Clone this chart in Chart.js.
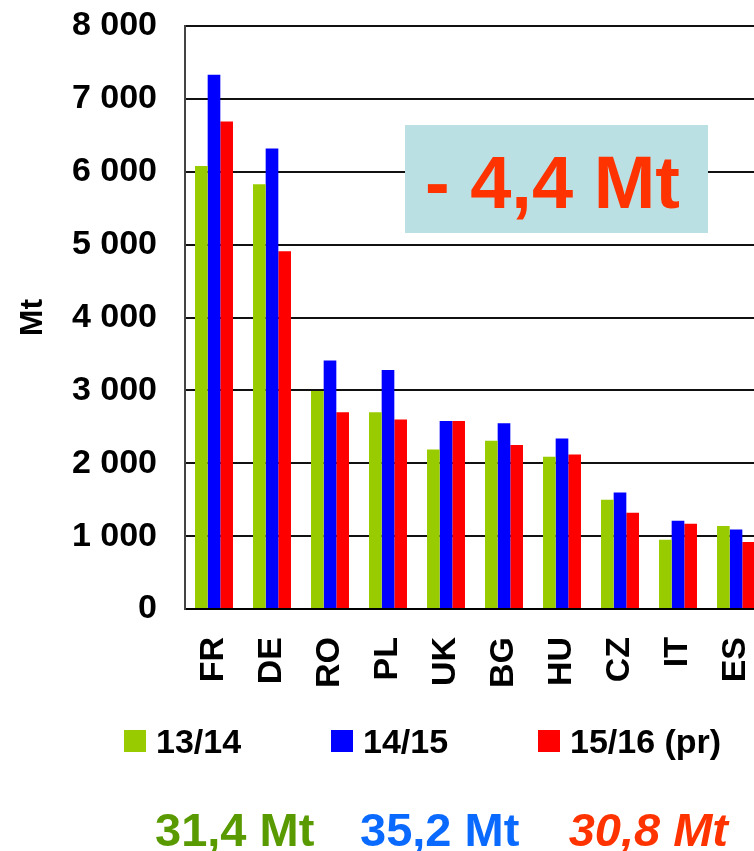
<!DOCTYPE html>
<html>
<head>
<meta charset="utf-8">
<script src="https://cdn.jsdelivr.net/npm/chart.js@4/dist/chart.umd.min.js"></script>
<style>
  html, body { margin: 0; padding: 0; overflow: hidden; background: #fff; }
  #wrap { width: 800px; height: 851px; }
</style>
</head>
<body>
<div id="wrap"><canvas id="chart"></canvas></div>
<script>
"use strict";
// countries and crop years
const countries = ['FR', 'DE', 'RO', 'PL', 'UK', 'BG', 'HU', 'CZ', 'IT', 'ES'];
const seasons = ['13/14', '14/15', '15/16 (pr)'];
const s1314 = [6080, 5830, 2990, 2700, 2190, 2310, 2090, 1500, 950, 1140];
const s1415 = [7330, 6320, 3410, 3280, 2580, 2550, 2340, 1600, 1210, 1090];
const s1516 = [6690, 4910, 2700, 2600, 2580, 2250, 2120, 1320, 1170, 920];
const seasonColors = ['#99CC00', '#0000FF', '#FF0000'];

// totals shown under the chart
const totals = ['31,4 Mt', '35,2 Mt', '30,8 Mt'];
const totalColors = ['#589A00', '#0A6AFF', '#FF3300'];
const changeLabel = '- 4,4 Mt';

const FONT = "'Liberation Sans', Arial, sans-serif";

function fmt(v) {
  return String(v).replace(/\B(?=(\d{3})+(?!\d))/g, ' ');
}

// legend, totals and the change box are drawn by hand
const extras = {
  id: 'extras',
  afterDraw(chart) {
    const ctx = chart.ctx;
    ctx.save();

    // change box
    ctx.fillStyle = '#BBE0E3';
    ctx.fillRect(405, 125, 303, 108);
    ctx.fillStyle = '#FF3300';
    ctx.font = 'bold 74px ' + FONT;
    ctx.textAlign = 'left';
    ctx.textBaseline = 'alphabetic';
    ctx.fillText(changeLabel, 425, 208);

    // legend
    const boxX = [124, 331, 538];
    ctx.font = 'bold 34px ' + FONT;
    chart.data.datasets.forEach((ds, i) => {
      ctx.fillStyle = ds.backgroundColor;
      ctx.fillRect(boxX[i], 730, 22, 22);
      ctx.fillStyle = '#000';
      ctx.fillText(ds.label, boxX[i] + 32, 753);
    });

    // totals
    ctx.font = 'bold 47px ' + FONT;
    ctx.fillStyle = totalColors[0];
    ctx.fillText(totals[0], 155, 846);
    ctx.fillStyle = totalColors[1];
    ctx.fillText(totals[1], 360, 846);
    ctx.font = 'italic bold 47px ' + FONT;
    ctx.fillStyle = totalColors[2];
    ctx.textAlign = 'right';
    ctx.fillText(totals[2], 728, 846);

    ctx.restore();
  }
};

const ctx = document.getElementById('chart').getContext('2d');
new Chart(ctx, {
  type: 'bar',
  data: {
    labels: countries,
    datasets: [s1314, s1415, s1516].map((d, i) => ({
      label: seasons[i],
      data: d,
      backgroundColor: seasonColors[i],
      borderWidth: 0
    }))
  },
  options: {
    responsive: true,
    maintainAspectRatio: false,
    animation: false,
    layout: { padding: { top: 26, right: 35, bottom: 0, left: 0 } },
    datasets: {
      bar: { categoryPercentage: 0.655, barPercentage: 1.0 }
    },
    plugins: {
      legend: { display: false },
      tooltip: { enabled: false }
    },
    scales: {
      x: {
        // invisible tick marks give the gap under the axis
        grid: {
          display: true,
          drawOnChartArea: false,
          drawTicks: true,
          tickLength: 28,
          tickColor: 'rgba(0,0,0,0)'
        },
        border: { color: '#000', width: 2 },
        ticks: {
          color: '#000',
          font: { family: FONT, size: 34, weight: 'bold' },
          minRotation: 90,
          maxRotation: 90,
          padding: 0
        },
        afterFit(scale) { scale.height = 242; }
      },
      y: {
        min: 0,
        max: 8000,
        grid: {
          color: '#111',
          lineWidth: 2,
          drawTicks: true,
          tickLength: 28,
          tickColor: 'rgba(0,0,0,0)'
        },
        border: { color: '#444', width: 2 },
        ticks: {
          stepSize: 1000,
          color: '#000',
          padding: 0,
          font: { family: FONT, size: 34, weight: 'bold' },
          callback: v => fmt(v)
        },
        title: {
          display: true,
          text: 'Mt',
          color: '#000',
          font: { family: FONT, size: 32, weight: 'bold' },
          padding: { top: 14, bottom: 0 }
        },
        afterFit(scale) { scale.width = 185; }
      }
    }
  },
  plugins: [extras]
});
</script>
</body>
</html>
